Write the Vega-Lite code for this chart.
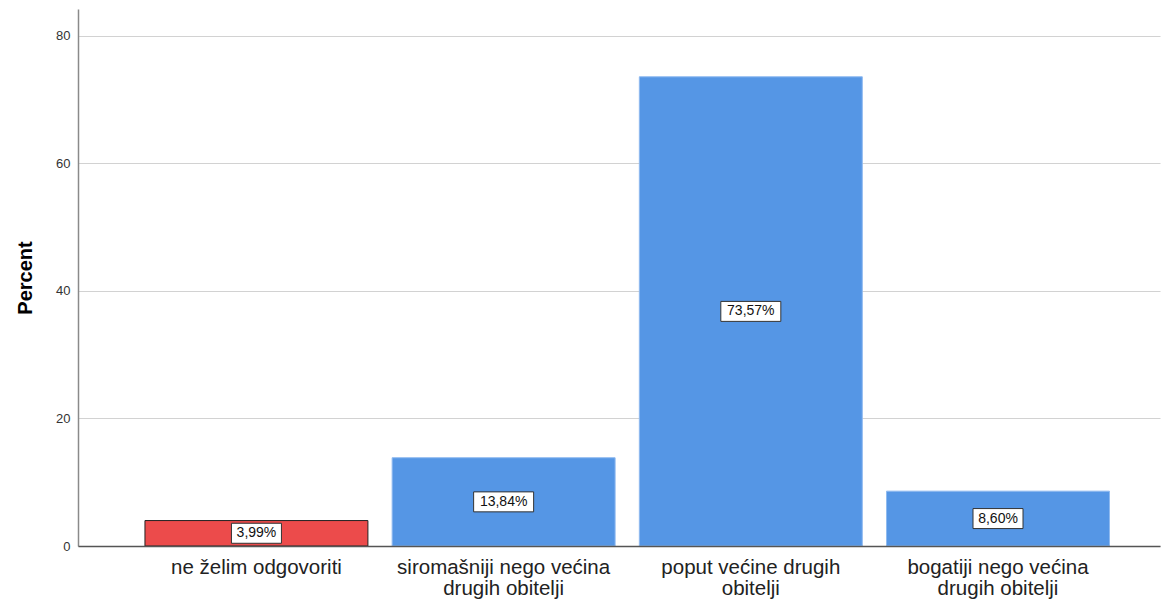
{
  "$schema": "https://vega.github.io/schema/vega-lite/v6.json",
  "width": 1082,
  "height": 537,
  "autosize": "none",
  "padding": {"left": 78, "top": 9, "right": 4, "bottom": 56},
  "background": "white",
  "config": {"view": {"stroke": null}, "font": "Liberation Sans"},
  "data": {
    "values": [
      {"kategorija": "ne želim odgovoriti", "postotak": 3.99},
      {"kategorija": "siromašniji nego većina drugih obitelji", "postotak": 13.84},
      {"kategorija": "poput većine drugih obitelji", "postotak": 73.57},
      {"kategorija": "bogatiji nego većina drugih obitelji", "postotak": 8.60}
    ]
  },
  "encoding": {
    "x": {
      "field": "kategorija",
      "type": "nominal",
      "sort": null,
      "scale": {"paddingInner": 0.098, "paddingOuter": 0.2376, "align": 0.57},
      "axis": {
        "title": null,
        "labelAngle": 0,
        "ticks": false,
        "labelFontSize": 20.5,
        "labelColor": "#222222",
        "labelPadding": 11,
        "labelLineHeight": 21,
        "labelLimit": 400,
        "labelOverlap": false,
        "domainColor": "#555555",
        "domainWidth": 1.5,
        "zindex": 1,
        "labelExpr": "datum.value == 'siromašniji nego većina drugih obitelji' ? ['siromašniji nego većina', 'drugih obitelji'] : datum.value == 'poput većine drugih obitelji' ? ['poput većine drugih', 'obitelji'] : datum.value == 'bogatiji nego većina drugih obitelji' ? ['bogatiji nego većina', 'drugih obitelji'] : datum.value"
      }
    }
  },
  "layer": [
    {
      "mark": {"type": "bar", "strokeWidth": 1},
      "encoding": {
        "y": {
          "field": "postotak",
          "type": "quantitative",
          "scale": {"domain": [0, 84.2], "nice": false},
          "axis": {
            "values": [0, 20, 40, 60, 80],
            "title": "Percent",
            "titleFontSize": 20,
            "titleFontWeight": "bold",
            "titleColor": "#000000",
            "titlePadding": 20,
            "labelFontSize": 13,
            "labelColor": "#333333",
            "labelPadding": 8,
            "ticks": false,
            "grid": true,
            "gridColor": "#d2d2d2",
            "gridWidth": 1.2,
            "domainColor": "#8a8a8a",
            "domainWidth": 1.5
          }
        },
        "color": {
          "field": "kategorija",
          "type": "nominal",
          "legend": null,
          "scale": {
            "domain": ["ne želim odgovoriti", "siromašniji nego većina drugih obitelji", "poput većine drugih obitelji", "bogatiji nego većina drugih obitelji"],
            "range": ["#ec4b4b", "#5596e5", "#5596e5", "#5596e5"]
          }
        },
        "stroke": {
          "condition": {"test": "datum.kategorija == 'ne želim odgovoriti'", "value": "#222222"},
          "value": "#8fbaf0"
        }
      }
    },
    {
      "transform": [{"calculate": "datum.postotak / 2", "as": "sredina"}],
      "mark": {"type": "point", "filled": true, "fill": "white", "stroke": "#333333", "strokeWidth": 1, "opacity": 1, "fillOpacity": 1},
      "encoding": {
        "y": {"field": "sredina", "type": "quantitative"},
        "shape": {
          "condition": {"test": "datum.postotak >= 10", "value": "M-1,-0.333L1,-0.333L1,0.333L-1,0.333Z"},
          "value": "M-1,-0.4L1,-0.4L1,0.4L-1,0.4Z"
        },
        "size": {
          "condition": {"test": "datum.postotak >= 10", "value": 3600},
          "value": 2500
        }
      }
    },
    {
      "transform": [{"calculate": "datum.postotak / 2", "as": "sredina"}],
      "mark": {
        "type": "text",
        "fontSize": 14,
        "color": "#111111",
        "baseline": "middle",
        "align": "center",
        "text": {"expr": "replace(format(datum.postotak, '.2f'), '.', ',') + '%'"}
      },
      "encoding": {
        "y": {"field": "sredina", "type": "quantitative"}
      }
    }
  ]
}
